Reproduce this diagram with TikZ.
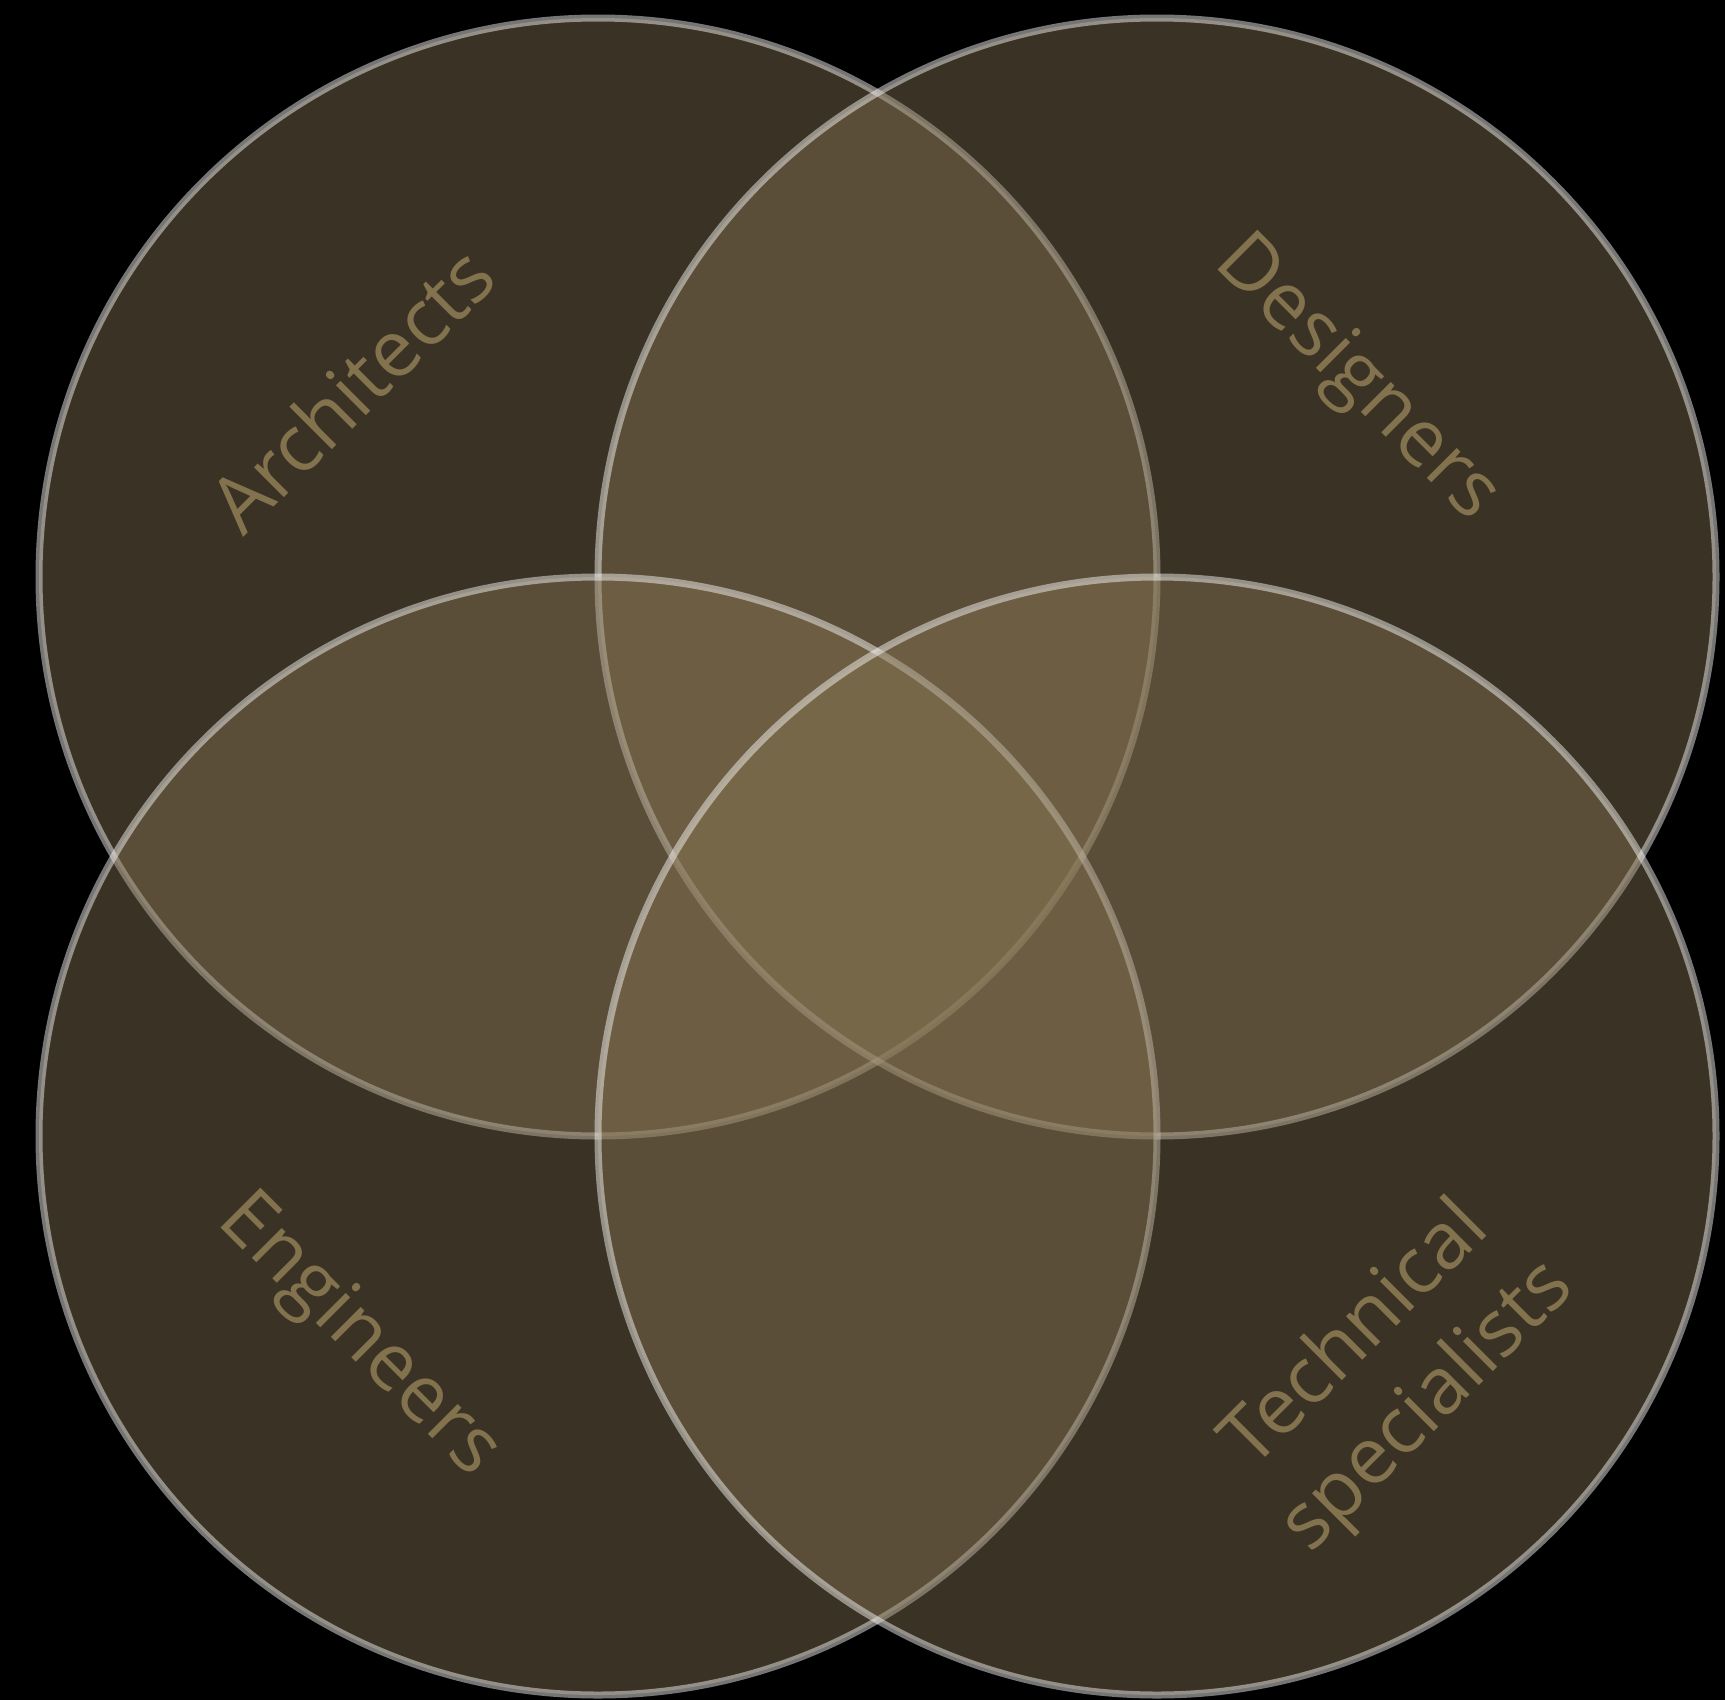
\documentclass[tikz,border=0pt]{standalone}
\usepackage{fontspec}
\setmainfont{Open Sans}
\definecolor{setfill}{RGB}{134,116,82}
\definecolor{labeltext}{RGB}{130,114,77}
\begin{document}
\begin{tikzpicture}[x=1pt,y=-1pt,
  setcircle/.style={fill=setfill, fill opacity=0.44, draw=white, draw opacity=0.46, line width=7pt},
  setlabel/.style={text=labeltext, font=\fontsize{79}{101}\selectfont, inner sep=0pt, align=center}]
\fill[black] (0,0) rectangle (1725,1700);
\useasboundingbox (0,0) rectangle (1725,1700);
\coordinate (cA) at (598,577);
\coordinate (cD) at (1157,577);
\coordinate (cE) at (598,1136);
\coordinate (cT) at (1157,1136);
\draw[setcircle] (cA) circle[radius=559];
\draw[setcircle] (cD) circle[radius=559];
\draw[setcircle] (cE) circle[radius=559];
\draw[setcircle] (cT) circle[radius=559];
\node[setlabel, rotate=45] (lA) at (351,389) {Architects};
\node[setlabel, rotate=-45] (lD) at (1356,380) {Designers};
\node[setlabel, rotate=-45] (lE) at (358,1337) {Engineers};
\node[setlabel, rotate=45] (lT) at (1393,1372) {Technical\\specialists};
\end{tikzpicture}
\end{document}
